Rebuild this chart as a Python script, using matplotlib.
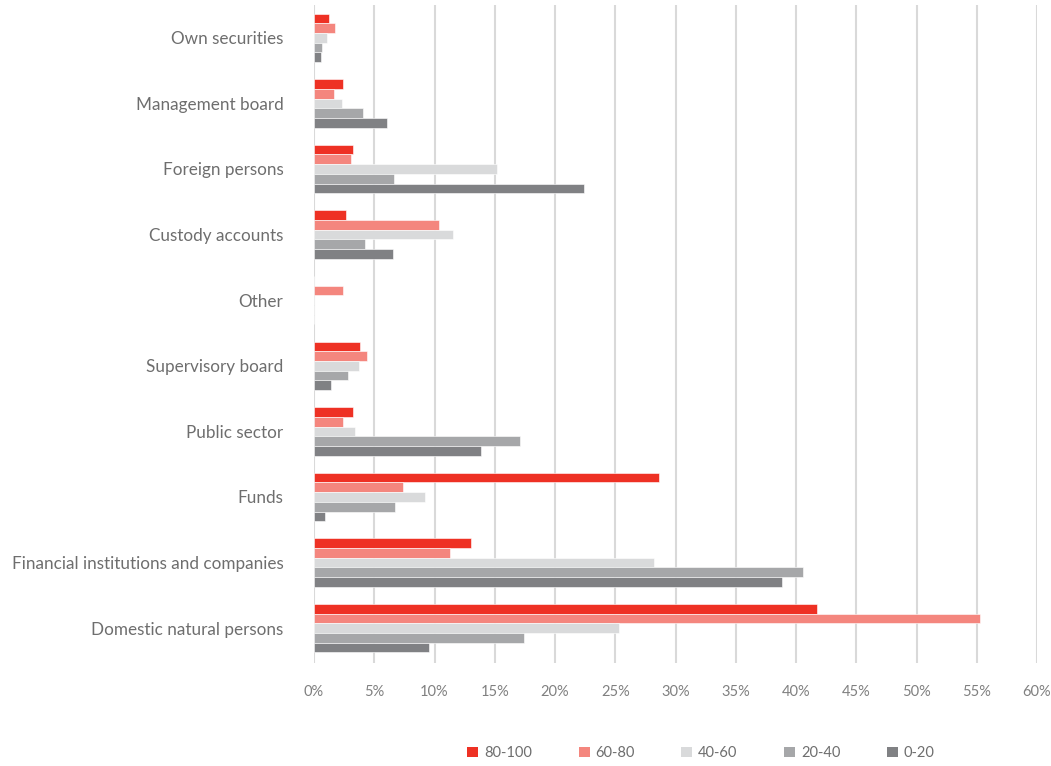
import matplotlib
matplotlib.use("Agg")
import matplotlib.pyplot as plt
from matplotlib.patches import Patch
import numpy as np

categories = ["Domestic natural persons", "Financial institutions and companies", "Funds",
              "Public sector", "Supervisory board", "Other", "Custody accounts",
              "Foreign persons", "Management board", "Own securities"]
series_names = ["80-100", "60-80", "40-60", "20-40", "0-20"]
v_80_100 = [41.7, 13.0, 28.65, 3.25, 3.78, 0.0, 2.69, 3.25, 2.42, 1.22]
v_60_80 = [55.3, 11.3, 7.38, 2.44, 4.36, 2.39, 10.36, 3.06, 1.69, 1.72]
v_40_60 = [25.3, 28.25, 9.17, 3.36, 3.69, 0.0, 11.53, 15.2, 2.36, 1.06]
v_20_40 = [17.4, 40.56, 6.75, 17.06, 2.81, 0.0, 4.22, 6.64, 4.03, 0.64]
v_0_20 = [9.5, 38.8, 0.95, 13.86, 1.39, 0.0, 6.53, 22.4, 6.08, 0.61]
xticks = [0, 5, 10, 15, 20, 25, 30, 35, 40, 45, 50, 55, 60]

colors = ["#EE3124", "#F4867E", "#D9DADB", "#A6A7A9", "#808184"]
series = [v_80_100, v_60_80, v_40_60, v_20_40, v_0_20]

plt.rcParams['font.family'] = ['Lato', 'DejaVu Sans']
fig = plt.figure(figsize=(10.51, 7.66), dpi=100)
ax = fig.add_axes([0.2988, 0.1345, 0.6879, 0.859])

y = np.arange(len(categories))
h = 0.148
offsets = [2 * h, h, 0, -h, -2 * h]
for vals, col, off in zip(series, colors, offsets):
    ax.barh(y + off, vals, height=h, color=col, edgecolor='white', linewidth=0.4, zorder=3)

ax.set_xlim(0, 60)
ax.set_ylim(-0.53, 9.5)
ax.set_xticks(xticks)
ax.set_xticklabels([f"{t}%" for t in xticks])
ax.set_yticks(y)
ax.set_yticklabels(categories)
ax.tick_params(axis='x', length=0, pad=16, labelsize=10.5, labelcolor='#808080')
ax.tick_params(axis='y', length=0, pad=22, labelsize=12.3, labelcolor='#6E6E6E')
ax.grid(axis='x', color='#D9D9D9', linewidth=1.5, zorder=0)
for s in ax.spines.values():
    s.set_visible(False)

handles = [Patch(facecolor=c, edgecolor='none') for c in colors]
fig.legend(handles, series_names, loc='center', bbox_to_anchor=(0.667, 0.017), ncol=5,
           frameon=False, handlelength=0.75, handleheight=0.75, handletextpad=0.4,
           columnspacing=3.2, fontsize=10.5, labelcolor='#6E6E6E')

fig.savefig("out.png", dpi=100)
